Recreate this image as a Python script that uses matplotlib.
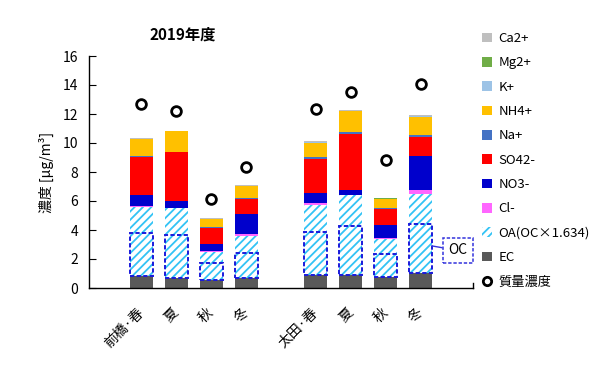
import matplotlib
matplotlib.use("Agg")
import matplotlib.pyplot as plt
from matplotlib.patches import Patch
from matplotlib.lines import Line2D
import numpy as np

plt.rcParams['font.family'] = ['Noto Sans CJK JP', 'DejaVu Sans']
plt.rcParams['hatch.linewidth'] = 1.3

# ---- data ----
categories = ['前橋·春', '夏', '秋', '冬', '太田·春', '夏', '秋', '冬']
positions = [0, 1, 2, 3, 5, 6, 7, 8]
EC   = [0.83, 0.71, 0.55, 0.67, 0.90, 0.90, 0.74, 1.06]
OC   = [2.93, 2.95, 1.20, 1.77, 2.95, 3.37, 1.62, 3.33]
Cl   = [0.03, 0.02, 0.03, 0.14, 0.11, 0.03, 0.09, 0.28]
NO3  = [0.78, 0.44, 0.50, 1.40, 0.69, 0.34, 0.85, 2.34]
SO4  = [2.60, 3.38, 1.13, 1.03, 2.39, 3.86, 1.13, 1.29]
Na   = [0.07, 0.04, 0.03, 0.05, 0.12, 0.09, 0.07, 0.11]
NH4  = [1.17, 1.39, 0.55, 0.83, 0.99, 1.45, 0.61, 1.25]
K    = [0.02, 0.02, 0.02, 0.02, 0.03, 0.02, 0.03, 0.06]
Mg   = [0.01, 0.01, 0.01, 0.01, 0.01, 0.01, 0.01, 0.01]
Ca   = [0.03, 0.03, 0.03, 0.03, 0.08, 0.05, 0.06, 0.10]
mass = [12.67, 12.23, 6.11, 8.37, 12.32, 13.49, 8.83, 14.05]
OC_factor = 1.634
OA = [v * OC_factor for v in OC]

colors = {
    'Ca2+': '#BFBFBF', 'Mg2+': '#70AD47', 'K+': '#9DC3E6', 'NH4+': '#FFC000',
    'Na+': '#4472C4', 'SO42-': '#FF0000', 'NO3-': '#0000CC', 'Cl-': '#FF66FF',
    'OA': '#33C3F5', 'EC': '#595959',
}

fig = plt.figure(figsize=(6.0, 3.73), dpi=100)
ax = fig.add_axes([89/600, 1-288/373, (473-89)/600, (288-56)/373])

x = np.array(positions, dtype=float)
w = 0.66
bottom = np.zeros(len(x))

ax.bar(x, EC, w, bottom=bottom, color=colors['EC'], linewidth=0)
bottom += EC
ax.bar(x, OA, w, bottom=bottom, facecolor='white', edgecolor=colors['OA'],
       hatch='////', linewidth=0)
# OC dashed boxes
ax.bar(x, OC, w, bottom=bottom, facecolor='none', edgecolor='#1a1adc',
       linewidth=1.4, linestyle=(0, (2.2, 1.2)), zorder=3)
bottom += OA
for key, vals in [('Cl-', Cl), ('NO3-', NO3), ('SO42-', SO4), ('Na+', Na),
                  ('NH4+', NH4), ('K+', K), ('Mg2+', Mg), ('Ca2+', Ca)]:
    ax.bar(x, vals, w, bottom=bottom, color=colors[key], linewidth=0)
    bottom += np.array(vals)

ax.plot(x, mass, linestyle='none', marker='o', markersize=7,
        markerfacecolor='white', markeredgecolor='black', markeredgewidth=2, zorder=5)

ax.set_xlim(-1.5, 9.5)
ax.set_ylim(0, 16)
ax.set_yticks(range(0, 17, 2))
ax.tick_params(axis='y', direction='in', length=5, labelsize=10, pad=8)
ax.set_xticks(x)
ax.set_xticklabels(categories, rotation=45, ha='right', va='center',
                   rotation_mode='anchor', fontsize=10)
ax.tick_params(axis='x', length=0, pad=16)
for s in ['top', 'right']:
    ax.spines[s].set_visible(False)
ax.spines['left'].set_linewidth(1.0)
ax.spines['bottom'].set_linewidth(1.0)
# right-end tick on category axis
ax.plot([9.5, 9.5], [0, 0.35], color='black', lw=1.0, clip_on=False)

ax.set_ylabel('濃度 [μg/m³]', fontsize=10, labelpad=6)

ax.annotate('OC', xy=(8 + w/2, 2.9), xytext=(9.06, 2.59),
            ha='center', va='center', fontsize=10, annotation_clip=False,
            bbox=dict(boxstyle='square,pad=0.4', fc='white', ec='#3333DD',
                      ls=(0, (2.2, 1.2)), lw=1.1),
            arrowprops=dict(arrowstyle='-', color='#3333DD', lw=1.0,
                            shrinkA=0, shrinkB=0))

fig.text(183/600, 1-35/373, '2019年度', ha='center', va='center',
         fontsize=11, fontweight='bold')

legend_items = [('Ca2+', 'Ca2+'), ('Mg2+', 'Mg2+'), ('K+', 'K+'), ('NH4+', 'NH4+'),
                ('Na+', 'Na+'), ('SO42-', 'SO42-'), ('NO3-', 'NO3-'), ('Cl-', 'Cl-')]
handles = [Patch(facecolor=colors[k], edgecolor='none') for k, _ in legend_items]
labels = [l for _, l in legend_items]
handles.append(Patch(facecolor='white', edgecolor=colors['OA'], hatch='////', linewidth=0))
labels.append('OA(OC×1.634)')
handles.append(Patch(facecolor=colors['EC'], edgecolor='none'))
labels.append('EC')
handles.append(Line2D([], [], linestyle='none', marker='o', markersize=6,
                      markerfacecolor='white', markeredgecolor='black', markeredgewidth=2))
labels.append('質量濃度')
fig.legend(handles, labels, loc='upper left', bbox_to_anchor=(482/600, 1-32/373),
           frameon=False, fontsize=9.5, handlelength=0.75, handleheight=0.75,
           handletextpad=0.5, labelspacing=0.86, borderaxespad=0, borderpad=0)

fig.savefig('out.png', dpi=100)
